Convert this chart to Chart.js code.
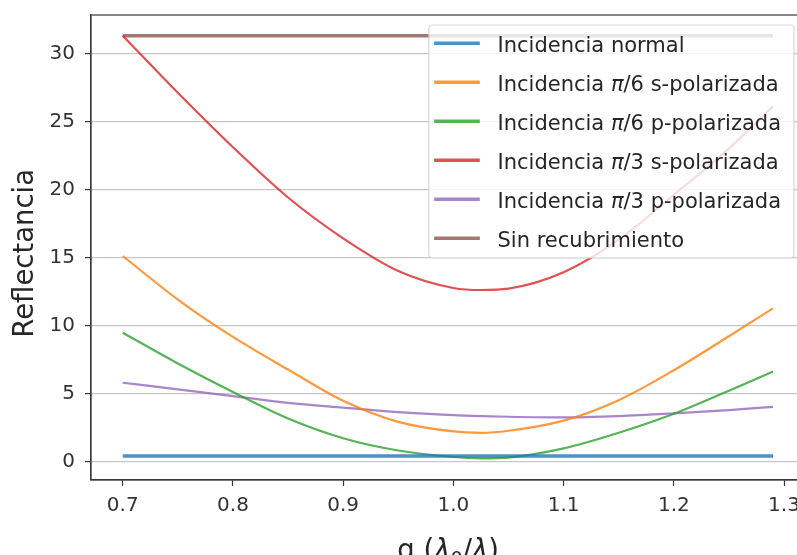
<!DOCTYPE html>
<html>
<head>
<meta charset="utf-8">
<script src="https://cdn.jsdelivr.net/npm/chart.js@4.4.0/dist/chart.umd.min.js"></script>
<style>
  html, body { margin: 0; padding: 0; background: #fff; overflow: hidden; }
  #wrap { width: 810px; height: 555px; }
</style>
</head>
<body>
<div id="wrap"><canvas id="refl" width="810" height="555"></canvas></div>
<script>
// g = λ0/λ
const gValues = [0.70, 0.75, 0.80, 0.85, 0.90, 0.95, 1.00, 1.025, 1.05, 1.10, 1.15, 1.20, 1.25, 1.29];

// reflectancia (%)
const rNormal   = [0.39, 0.39, 0.39, 0.39, 0.39, 0.39, 0.39, 0.39, 0.39, 0.39, 0.39, 0.39, 0.39, 0.39];
const rS30      = [15.1, 11.9, 9.15, 6.75, 4.45, 2.9, 2.2, 2.1, 2.25, 3.0, 4.5, 6.7, 9.2, 11.25];
const rP30      = [9.46, 7.2, 5.1, 3.15, 1.7, 0.8, 0.32, 0.22, 0.28, 0.95, 2.1, 3.5, 5.2, 6.6];
const rS60      = [31.3, 27.1, 23.1, 19.4, 16.4, 14.0, 12.75, 12.6, 12.7, 13.9, 16.3, 19.6, 23.0, 26.1];
const rP60      = [5.78, 5.3, 4.8, 4.3, 3.95, 3.62, 3.4, 3.33, 3.28, 3.23, 3.33, 3.53, 3.77, 4.01];
const rSinCapa  = [31.3, 31.3, 31.3, 31.3, 31.3, 31.3, 31.3, 31.3, 31.3, 31.3, 31.3, 31.3, 31.3, 31.3];

const seriesLabels = [
  'Incidencia normal',
  'Incidencia π/6 s-polarizada',
  'Incidencia π/6 p-polarizada',
  'Incidencia π/3 s-polarizada',
  'Incidencia π/3 p-polarizada',
  'Sin recubrimiento'
];
const seriesValues = [rNormal, rS30, rP30, rS60, rP60, rSinCapa];
const seriesColors = [
  'rgba(31,119,180,0.8)', 'rgba(255,127,14,0.8)', 'rgba(44,160,44,0.8)',
  'rgba(214,39,40,0.8)', 'rgba(148,103,189,0.8)', 'rgba(140,86,75,0.8)'
];
const seriesWidths = [3.5, 2.2, 2.2, 2.2, 2.2, 3.5];

const xTicks = [0.7, 0.8, 0.9, 1.0, 1.1, 1.2, 1.3];
const yTicks = [0, 5, 10, 15, 20, 25, 30];

const FONT = "'DejaVu Sans', sans-serif";
Chart.defaults.font.family = FONT;
Chart.defaults.color = '#333';

// texto con letras griegas en cursiva (como mathtext)
function richSegments(text) {
  return text.split(/([πλ])/).filter(s => s).map(s => ({ t: s, it: /[πλ]/.test(s) }));
}
function segFont(seg, size) {
  const sz = seg.sub ? size * 0.7 : size;
  return (seg.it ? 'italic ' : '') + sz + 'px ' + FONT;
}
function measureSegs(ctx, segs, size) {
  let w = 0;
  segs.forEach(s => { ctx.font = segFont(s, size); w += ctx.measureText(s.t).width; });
  return w;
}
function drawSegs(ctx, segs, x, y, size) {
  segs.forEach(s => {
    ctx.font = segFont(s, size);
    ctx.fillText(s.t, x, s.sub ? y + size * 0.2 : y);
    x += ctx.measureText(s.t).width;
  });
}

const decorations = {
  id: 'decorations',
  afterDatasetsDraw(chart) {
    const { ctx, chartArea: a } = chart;
    ctx.save();

    // marco de los ejes
    ctx.strokeStyle = '#3a3a3a';
    ctx.lineWidth = 1.2;
    ctx.strokeRect(a.left, a.top, a.right - a.left, a.bottom - a.top);

    // leyenda
    const fs = 21;
    const rowH = 39;
    const items = chart.data.datasets.map(d => richSegments(d.label));
    const maxW = Math.max(...items.map(s => measureSegs(ctx, s, fs)));
    const w = 68.7 + maxW + 13;
    const h = rowH * items.length - 1;
    const x0 = a.right - 11.4 - w;
    const y0 = a.top + 10;
    ctx.beginPath();
    ctx.roundRect(x0, y0, w, h, 4);
    ctx.fillStyle = 'rgba(255,255,255,0.8)';
    ctx.fill();
    ctx.strokeStyle = 'rgba(204,204,204,0.8)';
    ctx.lineWidth = 1.2;
    ctx.stroke();

    ctx.textBaseline = 'alphabetic';
    ctx.textAlign = 'left';
    items.forEach((segs, i) => {
      const cy = y0 + 18.3 + i * rowH;
      const ds = chart.data.datasets[i];
      ctx.strokeStyle = ds.borderColor;
      ctx.lineWidth = 3.5;
      ctx.beginPath();
      ctx.moveTo(x0 + 5.3, cy);
      ctx.lineTo(x0 + 51, cy);
      ctx.stroke();
      ctx.fillStyle = '#262626';
      drawSegs(ctx, segs, x0 + 68.7, cy + 8.5, fs);
    });
    ctx.restore();
  },
  afterDraw(chart) {
    const { ctx, chartArea: a } = chart;
    const ts = 27.5;
    ctx.save();
    ctx.fillStyle = '#262626';
    ctx.textBaseline = 'alphabetic';
    ctx.textAlign = 'left';

    // título eje x: g (λ0/λ)
    const xt = [
      { t: 'g (' }, { t: 'λ', it: true }, { t: '0', sub: true },
      { t: '/' }, { t: 'λ', it: true }, { t: ')' }
    ];
    const xw = measureSegs(ctx, xt, ts);
    drawSegs(ctx, xt, (a.left + a.right) / 2 - xw / 2, 559, ts);

    // título eje y
    ctx.font = ts + 'px ' + FONT;
    const yw = ctx.measureText('Reflectancia').width;
    ctx.translate(33.3, 253.3 + yw / 2);
    ctx.rotate(-Math.PI / 2);
    ctx.fillText('Reflectancia', 0, 0);
    ctx.restore();
  }
};

new Chart(document.getElementById('refl'), {
  type: 'line',
  data: {
    datasets: seriesLabels.map((label, i) => ({
      label,
      data: gValues.map((g, j) => ({ x: g, y: seriesValues[i][j] })),
      borderColor: seriesColors[i],
      backgroundColor: seriesColors[i],
      borderWidth: seriesWidths[i],
      pointRadius: 0,
      cubicInterpolationMode: 'monotone',
      fill: false
    }))
  },
  options: {
    responsive: false,
    animation: false,
    events: [],
    layout: { padding: { top: 15, right: 4.6, bottom: 0, left: 0 } },
    scales: {
      x: {
        type: 'linear',
        min: 0.6712, max: 1.3194,
        afterFit: s => { s.height = 75; s.paddingLeft = 0; s.paddingRight = 0; },
        afterBuildTicks: s => { s.ticks = xTicks.map(v => ({ value: v })); },
        grid: { drawOnChartArea: false, drawTicks: true, tickLength: 6, tickColor: '#3a3a3a', tickWidth: 1.2 },
        border: { display: true, color: '#3a3a3a', width: 1.2 },
        ticks: {
          padding: 8,
          font: { size: 20 },
          color: '#333',
          maxRotation: 0,
          callback: v => v.toFixed(1)
        }
      },
      y: {
        min: -1.37, max: 32.82,
        afterFit: s => { s.width = 91; s.paddingTop = 0; s.paddingBottom = 0; },
        afterBuildTicks: s => { s.ticks = yTicks.map(v => ({ value: v })); },
        grid: { color: '#c8c8c8', lineWidth: 1.2, drawTicks: true, tickLength: 6, tickColor: '#3a3a3a', tickWidth: 1.2 },
        border: { display: true, color: '#3a3a3a', width: 1.2 },
        ticks: {
          padding: 10,
          font: { size: 20 },
          color: '#333',
          callback: v => String(v)
        }
      }
    },
    plugins: {
      legend: { display: false },
      tooltip: { enabled: false }
    }
  },
  plugins: [decorations]
});
</script>
</body>
</html>
